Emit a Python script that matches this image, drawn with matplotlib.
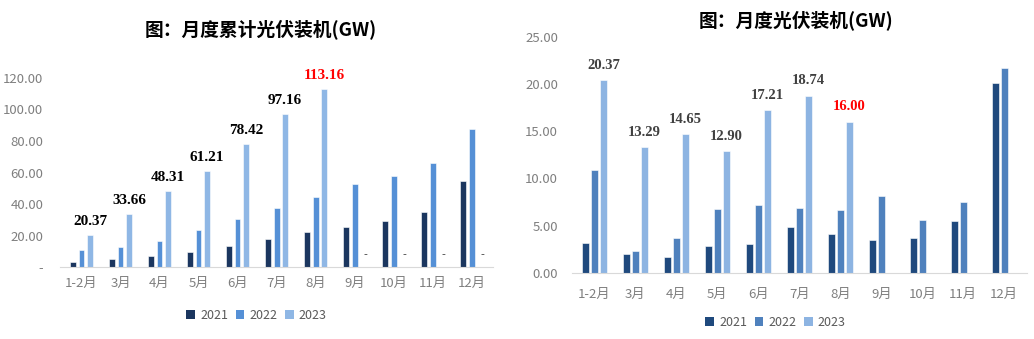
import matplotlib
matplotlib.use("Agg")
import matplotlib.pyplot as plt
from matplotlib.patches import Patch
import numpy as np

plt.rcParams['font.family'] = ['Noto Sans CJK SC', 'DejaVu Sans']

months = ["1-2月", "3月", "4月", "5月", "6月", "7月", "8月", "9月", "10月", "11月", "12月"]
years = ["2021", "2022", "2023"]

cum_2021 = [3.4, 5.3, 7.2, 9.9, 13.1, 18.0, 22.2, 25.4, 29.4, 34.9, 54.8]
cum_2022 = [10.8, 12.9, 16.7, 23.5, 30.7, 37.7, 44.4, 52.7, 58.0, 65.8, 87.6]
cum_2023 = [20.37, 33.66, 48.31, 61.21, 78.42, 97.16, 113.16, 0, 0, 0, 0]

mon_2021 = [3.20, 2.04, 1.69, 2.82, 3.03, 4.86, 4.08, 3.52, 3.73, 5.49, 20.10]
mon_2022 = [10.88, 2.29, 3.66, 6.80, 7.15, 6.87, 6.69, 8.13, 5.63, 7.46, 21.69]
mon_2023 = [20.37, 13.29, 14.65, 12.90, 17.21, 18.74, 16.00]

left_ticks = [0, 20, 40, 60, 80, 100, 120]
right_ticks = [0, 5, 10, 15, 20, 25]

fig = plt.figure(figsize=(10.34, 3.39), dpi=100)
gray = '#7f7f7f'
serif = ['Liberation Serif', 'DejaVu Serif']

# ---------- Left chart ----------
c1 = ['#1b365f', '#5590d6', '#8fb7e5']
ax1 = fig.add_axes([0.058, 0.212, 0.419, 0.558])
x = np.arange(len(months))
pitch, w = 0.22, 0.15
ax1.bar(x - pitch, cum_2021, w, color=c1[0], edgecolor='white', linewidth=0.4)
ax1.bar(x, cum_2022, w, color=c1[1], edgecolor='white', linewidth=0.4)
ax1.bar(x + pitch, cum_2023, w, color=c1[2], edgecolor='white', linewidth=0.4)
for i, v in enumerate(cum_2023):
    if v > 0:
        col = 'red' if i == 6 else 'black'
        ax1.annotate(f"{v:.2f}", (x[i] + pitch, v), xytext=(0, 5), textcoords='offset points',
                     ha='center', va='bottom', fontsize=11, fontweight='bold', color=col,
                     family=serif, annotation_clip=False)
    else:
        ax1.annotate("-", (x[i] + pitch + 0.05, 0), xytext=(0, 5), textcoords='offset points',
                     ha='center', va='bottom', fontsize=8, color='#404040')
ax1.set_ylim(0, 120)
ax1.set_xlim(-0.55, 10.55)
ax1.set_yticks(left_ticks)
ax1.set_yticklabels(["-" if t == 0 else f"{t:.2f}" for t in left_ticks])
ax1.set_xticks(x)
ax1.set_xticklabels(months)
for s in ['top', 'right', 'left']:
    ax1.spines[s].set_visible(False)
ax1.spines['bottom'].set_color('#d9d9d9')
ax1.tick_params(axis='both', length=0, colors=gray, labelsize=9.5)
ax1.tick_params(axis='y', pad=12)
ax1.tick_params(axis='x', pad=7)
fig.text(0.252, 0.915, "图：月度累计光伏装机(GW)", ha='center', va='center', fontsize=13.5,
         fontweight='bold', color='black')
h1 = [Patch(facecolor=c, edgecolor='none') for c in c1]
fig.legend(h1, years, loc='center', bbox_to_anchor=(0.248, 0.07), ncol=3, frameon=False,
           fontsize=9, labelcolor='#595959', handlelength=0.7, handleheight=0.7,
           handletextpad=0.4, columnspacing=0.6)

# ---------- Right chart ----------
c2 = ['#1f497d', '#4f81bd', '#8db4e2']
ax2 = fig.add_axes([0.553, 0.195, 0.440, 0.697])
w2 = 0.175
ax2.bar(x - pitch, mon_2021, w2, color=c2[0], edgecolor='white', linewidth=0.4)
ax2.bar(x, mon_2022, w2, color=c2[1], edgecolor='white', linewidth=0.4)
x23 = x[:len(mon_2023)]
ax2.bar(x23 + pitch, mon_2023, w2, color=c2[2], edgecolor='white', linewidth=0.4)
for i, v in enumerate(mon_2023):
    col = 'red' if i == 6 else '#404040'
    ax2.annotate(f"{v:.2f}", (x23[i] + pitch, v), xytext=(0, 6), textcoords='offset points',
                 ha='center', va='bottom', fontsize=10.5, fontweight='bold', color=col,
                 family=serif)
ax2.set_ylim(0, 25)
ax2.set_xlim(-0.55, 10.55)
ax2.set_yticks(right_ticks)
ax2.set_yticklabels([f"{t:.2f}" for t in right_ticks])
ax2.set_xticks(x)
ax2.set_xticklabels(months)
for s in ['top', 'right', 'left']:
    ax2.spines[s].set_visible(False)
ax2.spines['bottom'].set_color('#d9d9d9')
ax2.tick_params(axis='both', length=0, colors=gray, labelsize=9.5)
ax2.tick_params(axis='y', pad=10)
ax2.tick_params(axis='x', pad=11)
fig.text(0.77, 0.94, "图：月度光伏装机(GW)", ha='center', va='center', fontsize=13.5,
         fontweight='bold', color='black')
h2 = [Patch(facecolor=c, edgecolor='none') for c in c2]
fig.legend(h2, years, loc='center', bbox_to_anchor=(0.75, 0.05), ncol=3, frameon=False,
           fontsize=9, labelcolor='#595959', handlelength=0.7, handleheight=0.7,
           handletextpad=0.4, columnspacing=0.6)

fig.savefig("out.png", dpi=100, facecolor='white')
